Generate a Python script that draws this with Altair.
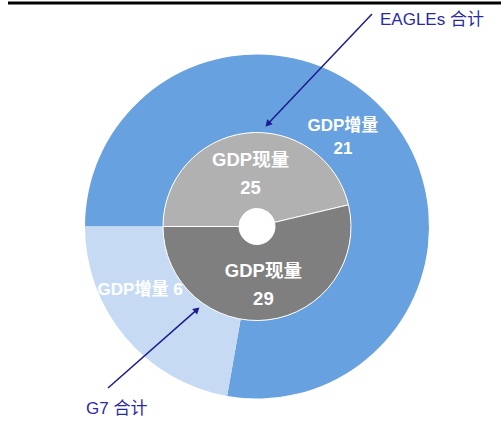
import math
import altair as alt
import pandas as pd

# ---- data ----
outer_names = ["EAGLEs增量", "G7增量"]
outer_values = [21, 6]
outer_labels = ["GDP增量\n21", "GDP增量 6"]

inner_names = ["EAGLEs现量", "G7现量"]
inner_values = [25, 29]
inner_labels = ["GDP现量\n25", "GDP现量\n29"]

color_domain = outer_names + inner_names
color_range = ["#67A1DF", "#C6DBF3", "#B1B1B1", "#7F7F7F"]

annot_texts = ["EAGLEs 合计", "G7 合计"]

outer_df = pd.DataFrame({"name": outer_names, "value": outer_values,
                         "label": outer_labels, "idx": [0, 1],
                         "dx": [-16, -15], "dy": [-15, -22]})
inner_df = pd.DataFrame({"name": inner_names, "value": inner_values,
                         "label": inner_labels, "idx": [0, 1],
                         "dx": [0, 0], "dy": [-12, -10]})
dummy = pd.DataFrame({"a": [0]})

CX, CY = 257, 226.5
start = 1.5 * math.pi
theta_scale = alt.Scale(range=[start, start + 2 * math.pi])
color = alt.Color("name:N", scale=alt.Scale(domain=color_domain, range=color_range), legend=None)
FONT = "Liberation Sans, Arial, Noto Sans CJK SC"


def arc_layer(df, inner, outer, stroke=None):
    kw = dict(innerRadius=inner, outerRadius=outer)
    if stroke:
        kw.update(stroke=stroke, strokeWidth=1)
    return alt.Chart(df).mark_arc(**kw).encode(
        theta=alt.Theta("value:Q", stack=True, scale=theta_scale),
        order=alt.Order("idx:Q"),
        color=color,
        x=alt.value(CX), y=alt.value(CY),
    )


def text_layer(df, radius, line_height, size):
    layers = []
    for i in range(len(df)):
        layers.append(
            alt.Chart(df).mark_text(
                radius=radius, lineBreak="\n", lineHeight=line_height,
                fontSize=size, fontWeight="bold", font=FONT, color="white",
                align="center", baseline="middle",
                dx=float(df["dx"][i]), dy=float(df["dy"][i]),
            ).encode(
                theta=alt.Theta("value:Q", stack=True, scale=theta_scale),
                order=alt.Order("idx:Q"),
                text=alt.condition(f"datum.idx == {i}", "label:N", alt.value("")),
                x=alt.value(CX), y=alt.value(CY),
            )
        )
    return layers


outer_arc = arc_layer(outer_df, 94, 172)
inner_arc = arc_layer(inner_df, 18, 94, stroke="white")

outer_text = text_layer(outer_df, 133, 23, 17)
inner_text = text_layer(inner_df, 55, 28, 18.5)

top_line = alt.Chart(dummy).mark_rule(color="black", strokeWidth=3).encode(
    x=alt.value(8), x2=alt.value(501), y=alt.value(3))

ARROW = "#1B1B8F"


def arrow(x0, y0, x1, y1):
    L = math.hypot(x1 - x0, y1 - y0)
    ux, uy = (x1 - x0) / L, (y1 - y0) / L
    hx, hy = x1 - 4 * ux, y1 - 4 * uy
    ang = math.degrees(math.atan2(ux, -uy)) % 360
    line = alt.Chart(dummy).mark_rule(color=ARROW, strokeWidth=1.5).encode(
        x=alt.value(x0), y=alt.value(y0), x2=alt.value(hx), y2=alt.value(hy))
    head = alt.Chart(dummy).mark_point(shape="triangle-up", filled=True, color=ARROW,
                                       size=55, angle=ang, opacity=1).encode(
        x=alt.value(hx), y=alt.value(hy))
    return [line, head]


annot1 = alt.Chart(dummy).mark_text(text=annot_texts[0], fontSize=17, font=FONT,
                                    color="#2A2AA5", align="left", baseline="middle").encode(
    x=alt.value(380), y=alt.value(20))
annot2 = alt.Chart(dummy).mark_text(text=annot_texts[1], fontSize=17, font=FONT,
                                    color="#2A2AA5", align="left", baseline="middle").encode(
    x=alt.value(86), y=alt.value(409))

layers = ([top_line, outer_arc, inner_arc] + outer_text + inner_text
          + arrow(372, 14, 265, 127) + arrow(108, 388, 200, 307) + [annot1, annot2])

chart = alt.layer(*layers).resolve_scale(theta="independent").properties(
    width=501, height=443, autosize=alt.AutoSizeParams(type="none"), padding=0
).configure_view(stroke=None)

chart.save("out.html", embed_options={"renderer": "svg", "actions": False})
